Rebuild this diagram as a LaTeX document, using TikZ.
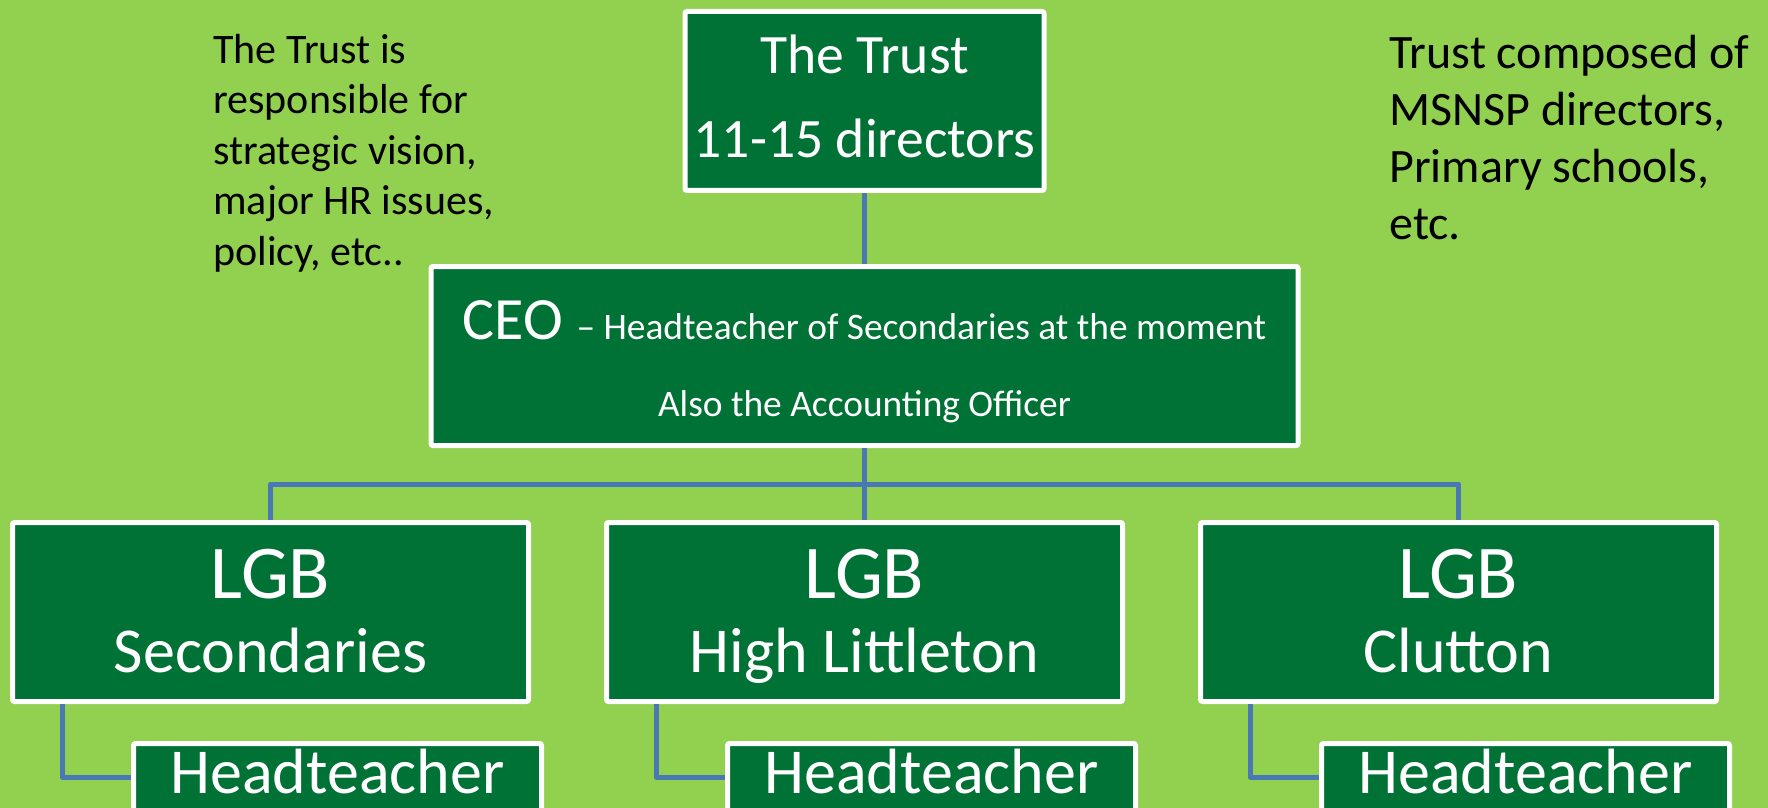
\documentclass[tikz,border=0pt]{standalone}
\usepackage{fontspec}
\setmainfont{Carlito}
\usetikzlibrary{positioning}
\usetikzlibrary{calc}
\definecolor{leafgreen}{HTML}{92D050}
\definecolor{boardgreen}{HTML}{007236}
\definecolor{linkblue}{HTML}{4A78B4}
\tikzset{
  board/.style = {rectangle, draw=white, line width=2.5pt, fill=boardgreen,
    text=white, inner sep=0pt, align=center, rounded corners=1pt,
    minimum height=89.5pt},
  link/.style = {draw=linkblue, line width=2.5pt, line join=round},
  note/.style = {anchor=base west, inner sep=0pt, align=left},
}

\begin{document}
\begin{tikzpicture}[x=0.5pt, y=-0.5pt]
    \fill [leafgreen] (0,0) rectangle (1768,808);
    \useasboundingbox (0,0) rectangle (1768,808);
    \node [board, minimum width=179.5pt, text height=62.5pt, text depth=5.5pt,
      font={\fontsize{27.8}{42.5}\selectfont}] (trust) at (864.5,101)
      {The Trust\\11-15 directors};
    \node [board, minimum width=433.5pt, text height=62pt, text depth=2pt,
      font={\fontsize{18.7}{38.5}\selectfont}, below = 35.5pt of trust] (ceo)
      {{\fontsize{30}{38.5}\selectfont CEO\ }– Headteacher of Secondaries at the moment\\Also the Accounting Officer};
    \node [board, minimum width=258pt, text height=62pt, text depth=2pt,
      font={\fontsize{32}{37}\selectfont}, below = 36pt of ceo] (lgb2)
      {{\fontsize{38}{37}\selectfont LGB}\\High Littleton};
    \node [board, minimum width=258pt, text height=62pt, text depth=2pt,
      font={\fontsize{32}{37}\selectfont}, left = 36.5pt of lgb2] (lgb1)
      {{\fontsize{38}{37}\selectfont LGB}\\Secondaries};
    \node [board, minimum width=258pt, text height=62pt, text depth=2pt,
      font={\fontsize{32}{37}\selectfont}, right = 36.5pt of lgb2] (lgb3)
      {{\fontsize{38}{37}\selectfont LGB}\\Clutton};
    \node [board, minimum width=204pt, minimum height=34pt, text height=22pt,
      text depth=6.5pt, font={\fontsize{32}{37}\selectfont},
      below right = 18.5pt and 60.5pt of lgb1.south west] (head1) {Headteacher};
    \node [board, minimum width=204pt, minimum height=34pt, text height=22pt,
      text depth=6.5pt, font={\fontsize{32}{37}\selectfont},
      below right = 18.5pt and 60.5pt of lgb2.south west] (head2) {Headteacher};
    \node [board, minimum width=204pt, minimum height=34pt, text height=22pt,
      text depth=6.5pt, font={\fontsize{32}{37}\selectfont},
      below right = 18.5pt and 60.5pt of lgb3.south west] (head3) {Headteacher};
    \node [note, font={\fontsize{21}{25.25}\selectfont}] (remit) at (213,265)
      {The Trust is\\responsible for\\strategic vision,\\major HR issues,\\policy, etc..};
    \node [note, font={\fontsize{24}{28.6}\selectfont}] (members) at (1389,240)
      {Trust composed of\\MSNSP directors,\\Primary schools,\\etc.};
    \coordinate (bus) at ($(ceo.south)!0.5!(lgb2.north)$);
    \draw [link] (trust) -- (ceo);
    \draw [link] (ceo) -- (lgb2);
    \draw [link] (lgb1.north) |- (bus) -| (lgb3.north);
    \draw [link] ([xshift=26.25pt]lgb1.south west) |- (head1.west);
    \draw [link] ([xshift=26.25pt]lgb2.south west) |- (head2.west);
    \draw [link] ([xshift=26.25pt]lgb3.south west) |- (head3.west);
  \end{tikzpicture}
\end{document}
